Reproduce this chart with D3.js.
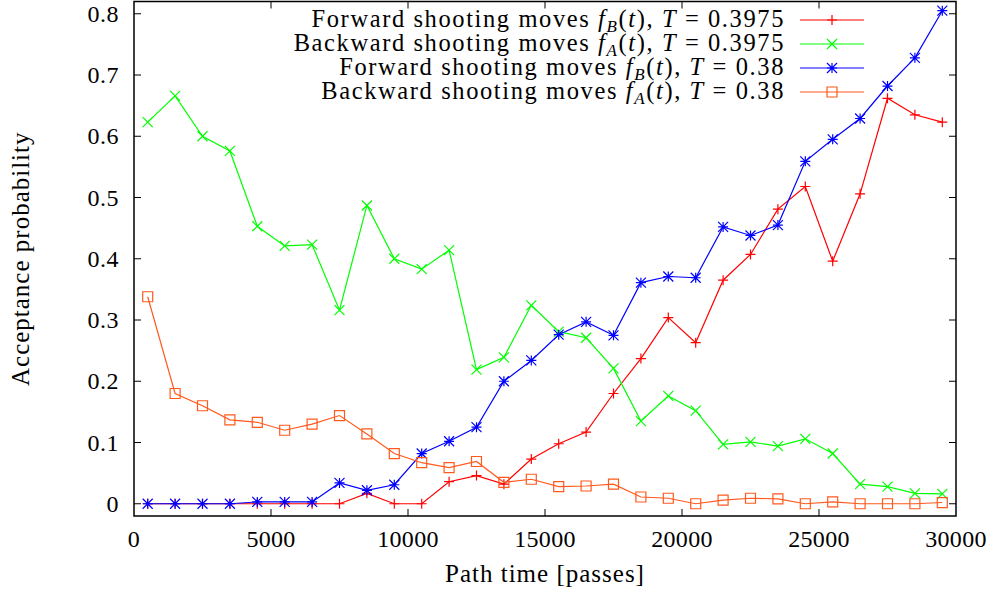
<!DOCTYPE html>
<html lang="en">
  <head>
    <meta charset="utf-8">
    <title>Acceptance probability</title>
    <style>
      body { margin: 0; background: #fff; }
      text { font-family: "Liberation Serif", "DejaVu Serif", serif; fill: #000; }
    </style>
  </head>
  <body>
    <svg></svg>
    <script src="https://d3js.org/d3.v7.min.js"></script>
    <script type="text/javascript">
      // path time bins (centres)
      var pathTime = [500, 1500, 2500, 3500, 4500, 5500, 6500, 7500, 8500, 9500,
                      10500, 11500, 12500, 13500, 14500, 15500, 16500, 17500, 18500, 19500,
                      20500, 21500, 22500, 23500, 24500, 25500, 26500, 27500, 28500, 29500];

      var fwd3975 = [0, 0, 0, 0, 0, 0, 0, 0, 0.017, 0,
                     0, 0.036, 0.046, 0.032, 0.073, 0.098, 0.117, 0.180, 0.237, 0.304,
                     0.263, 0.365, 0.407, 0.481, 0.518, 0.396, 0.506, 0.662, 0.635, 0.623];

      var bwd3975 = [0.623, 0.666, 0.600, 0.576, 0.453, 0.421, 0.423, 0.316, 0.487, 0.400,
                     0.383, 0.414, 0.219, 0.239, 0.324, 0.281, 0.271, 0.221, 0.135, 0.176,
                     0.152, 0.097, 0.101, 0.094, 0.106, 0.082, 0.032, 0.028, 0.017, 0.016];

      var fwd38 = [0, 0, 0, 0, 0.003, 0.003, 0.003, 0.034, 0.022, 0.031,
                   0.082, 0.102, 0.125, 0.200, 0.234, 0.276, 0.297, 0.275, 0.361, 0.371,
                   0.369, 0.452, 0.438, 0.455, 0.559, 0.595, 0.629, 0.682, 0.728, 0.805];

      var bwd38 = [0.338, 0.180, 0.160, 0.137, 0.133, 0.120, 0.130, 0.144, 0.114, 0.082,
                   0.067, 0.059, 0.069, 0.035, 0.040, 0.028, 0.029, 0.032, 0.011, 0.009,
                   0, 0.006, 0.009, 0.008, 0, 0.003, 0, 0, 0, 0.002];

      var xTicks = [0, 5000, 10000, 15000, 20000, 25000, 30000];
      var yTicks = [0, 0.1, 0.2, 0.3, 0.4, 0.5, 0.6, 0.7, 0.8];

      var series = [
        {name: "Forward shooting moves", f: "B", T: "0.3975", values: fwd3975, color: "#ff0000", mark: "plus"},
        {name: "Backward shooting moves", f: "A", T: "0.3975", values: bwd3975, color: "#00ff00", mark: "cross"},
        {name: "Forward shooting moves", f: "B", T: "0.38", values: fwd38, color: "#0000ff", mark: "star"},
        {name: "Backward shooting moves", f: "A", T: "0.38", values: bwd38, color: "#ff5a1e", mark: "square"}
      ];

      var width = 993, height = 596;
      var pL = 134, pR = 956, pT = 1.5, pB = 516;

      var svg = d3.select("svg")
                  .attr("width", width)
                  .attr("height", height);

      var x = d3.scaleLinear().domain([0, 30000]).range([pL, pR]);
      var y = d3.scaleLinear().domain([-0.02, 0.82]).range([pB, pT]);

      // ticks (inward, mirrored)
      var tl = 7;
      var ax = svg.append("g").attr("stroke", "#000").attr("stroke-width", 1);
      xTicks.forEach(function(t) {
        if (t == 0 || t == 30000) return;
        ax.append("line").attr("x1", x(t)).attr("x2", x(t)).attr("y1", pB).attr("y2", pB - tl);
        ax.append("line").attr("x1", x(t)).attr("x2", x(t)).attr("y1", pT).attr("y2", pT + tl);
      });
      yTicks.forEach(function(t) {
        ax.append("line").attr("x1", pL).attr("x2", pL + tl).attr("y1", y(t)).attr("y2", y(t));
        ax.append("line").attr("x1", pR).attr("x2", pR - tl).attr("y1", y(t)).attr("y2", y(t));
      });

      svg.selectAll(".xl").data(xTicks).enter().append("text")
         .attr("x", function(d){ return x(d); })
         .attr("y", 547)
         .attr("text-anchor", "middle")
         .style("font-size", "24px")
         .style("letter-spacing", "0.3px")
         .text(function(d){ return d; });

      svg.selectAll(".yl").data(yTicks).enter().append("text")
         .attr("x", 119)
         .attr("y", function(d){ return y(d) + 8; })
         .attr("text-anchor", "end")
         .style("font-size", "24px")
         .style("letter-spacing", "0.5px")
         .text(function(d){ return d == 0 ? "0" : d3.format(".1f")(d); });

      svg.append("text")
         .attr("x", (pL + pR) / 2).attr("y", 582)
         .attr("text-anchor", "middle")
         .style("font-size", "25px")
         .style("letter-spacing", "1px")
         .text("Path time [passes]");

      svg.append("text")
         .attr("transform", "translate(29," + ((pT + pB) / 2) + ") rotate(-90)")
         .attr("text-anchor", "middle")
         .style("font-size", "25px")
         .style("letter-spacing", "1px")
         .text("Acceptance probability");

      function marker(g, mark, cx, cy, color) {
        var s = 5;
        var p = g.append("path").attr("stroke", color).attr("stroke-width", 1.2).attr("fill", "none");
        if (mark == "plus") p.attr("d", "M" + (cx - s) + "," + cy + "H" + (cx + s) + "M" + cx + "," + (cy - s) + "V" + (cy + s));
        if (mark == "cross") p.attr("d", "M" + (cx - s) + "," + (cy - s) + "L" + (cx + s) + "," + (cy + s) + "M" + (cx - s) + "," + (cy + s) + "L" + (cx + s) + "," + (cy - s));
        if (mark == "star") p.attr("d", "M" + (cx - s) + "," + cy + "H" + (cx + s) + "M" + cx + "," + (cy - s) + "V" + (cy + s) +
                                       "M" + (cx - s) + "," + (cy - s) + "L" + (cx + s) + "," + (cy + s) + "M" + (cx - s) + "," + (cy + s) + "L" + (cx + s) + "," + (cy - s));
        if (mark == "square") p.attr("d", "M" + (cx - 5) + "," + (cy - 5) + "h10v10h-10z");
      }

      var line = d3.line()
                   .x(function(d){ return x(d[0]); })
                   .y(function(d){ return y(d[1]); });

      series.forEach(function(s) {
        var pts = pathTime.map(function(t, i){ return [t, s.values[i]]; });
        var g = svg.append("g");
        g.append("path").attr("d", line(pts))
         .attr("fill", "none").attr("stroke", s.color).attr("stroke-width", 1.2);
        pts.forEach(function(p) { marker(g, s.mark, x(p[0]), y(p[1]), s.color); });
      });

      // legend
      series.forEach(function(s, i) {
        var ly = 20 + i * 24;
        var g = svg.append("g");
        g.append("line").attr("x1", 800).attr("x2", 864).attr("y1", ly).attr("y2", ly)
         .attr("stroke", s.color).attr("stroke-width", 1.2);
        marker(g, s.mark, 832, ly, s.color);
        var t = g.append("text").attr("x", 785).attr("y", ly + 7)
                 .attr("text-anchor", "end").style("font-size", "24.5px")
                 .style("letter-spacing", "1.6px");
        t.append("tspan").text(s.name + " ");
        t.append("tspan").style("font-style", "italic").text("f");
        t.append("tspan").style("font-style", "italic").style("font-size", "17px").attr("dy", 5).text(s.f);
        t.append("tspan").attr("dy", -5).text("(");
        t.append("tspan").style("font-style", "italic").text("t");
        t.append("tspan").text("), ");
        t.append("tspan").style("font-style", "italic").text("T");
        t.append("tspan").text(" = " + s.T);
      });

      // frame
      svg.append("rect").attr("x", pL).attr("y", pT)
         .attr("width", pR - pL).attr("height", pB - pT)
         .attr("fill", "none").attr("stroke", "#000").attr("stroke-width", 1.5);
    </script>
  </body>
</html>
